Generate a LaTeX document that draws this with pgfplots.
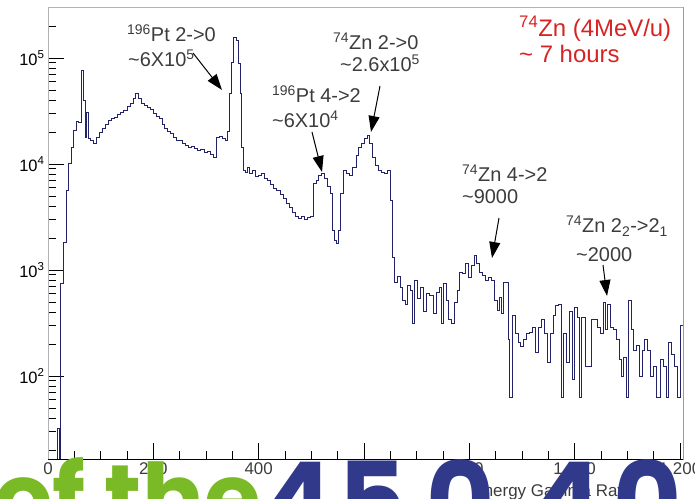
\documentclass[border=0pt]{standalone}
\usepackage{fontspec}
\setmainfont{Liberation Sans}
\newfontfamily\slidefont{Poppins}
\usepackage{pgfplots}
\pgfplotsset{compat=1.18}
\usetikzlibrary{arrows.meta}

\definecolor{histblue}{RGB}{35,35,105}
\definecolor{annotgray}{RGB}{60,60,60}
\definecolor{znred}{RGB}{215,35,35}
\definecolor{slidegreen}{RGB}{122,186,38}
\definecolor{slideblue}{RGB}{49,57,138}

% gamma spectrum, left bin edge / counts
\pgfplotstableread{
E counts
0 1
17.1 32
21.8 1
23.7 754
28.5 1838
34.2 5684
38.9 10219
43.7 14470
48.4 20930
53.2 25440
57.9 24890
62.7 77030
66.5 40160
70.3 17980
74.0 30950
76.9 17590
81.6 16840
87.3 15780
93.0 17980
98.7 20040
104.4 21860
110.1 23850
115.8 26010
121.5 27160
127.2 27760
132.9 29630
138.6 30950
144.3 32310
150.0 35250
155.7 37630
161.4 41940
166.1 46750
170.9 41940
176.6 37630
182.3 36030
188.0 34490
193.7 33030
199.4 30280
205.1 28370
210.8 27160
216.5 23850
222.1 21860
227.8 20480
233.5 19610
239.2 17980
244.9 16840
250.6 16500
256.3 15780
262.0 15110
267.7 14470
273.4 14790
279.1 14160
284.8 13560
290.5 13700
296.2 12980
301.9 13270
307.6 12430
313.3 11640
319.0 17980
324.7 18380
330.4 17590
336.1 16840
339.9 20480
343.7 46750
347.5 91680
351.3 157800
357.0 147900
360.8 89720
364.6 46750
368.3 14470
371.2 8778
375.9 8404
379.7 9370
383.5 8225
389.2 8778
394.9 7703
400.6 7872
406.3 8225
412.0 7377
417.7 7064
423.4 6476
429.1 5937
434.8 5684
440.5 5212
446.2 4777
451.9 4286
457.6 3929
463.3 3525
469.0 3231
474.7 3094
480.4 3231
486.1 3028
491.8 3162
497.5 3231
503.2 6619
508.9 7064
514.5 7872
520.2 8225
525.9 7377
531.6 6202
537.3 5326
541.1 2384
544.9 1919
548.7 1798
552.5 2384
556.3 5326
562.0 8778
567.7 8225
573.4 7872
579.1 9370
584.8 12160
589.5 14470
594.3 15780
600.0 17590
605.7 18770
610.4 15780
615.2 11640
620.9 9786
626.6 8778
632.3 8404
638.0 8225
643.7 8778
649.4 4575
654.1 1327
658.8 770
664.5 878
670.2 691
674.0 521
679.7 468
683.5 722
689.2 648
693.0 316
696.8 805
702.5 544
708.2 691
713.9 402
719.6 607
725.3 581
731.0 393
736.7 620
742.4 677
746.2 316
750.0 754
755.7 521
759.5 338
765.2 316
770.9 499
776.6 648
782.2 957
787.9 930
793.6 1164
799.3 859
805.0 1115
810.7 1385
814.5 1164
820.2 957
825.9 897
831.6 805
837.3 859
843.0 805
848.7 521
853.5 419
858.2 556
862.0 393
865.8 770
873.4 219
876.3 63
881.0 376
886.7 254
892.4 205
896.2 188
901.9 219
907.6 254
913.3 260
919.0 290
924.7 165
930.4 290
936.1 338
941.8 254
947.5 133
953.2 254
958.9 376
964.5 458
970.2 468
975.9 63
979.7 254
985.4 133
991.1 402
995.9 92
1000.6 448
1006.3 360
1010.1 63
1013.9 360
1019.6 122
1025.3 122
1031.0 338
1036.7 338
1042.4 290
1048.1 254
1053.8 499
1058.5 272
1062.3 468
1067.1 290
1072.8 272
1078.5 219
1084.2 142
1088.9 98
1092.7 151
1097.5 63
1102.2 521
1107.0 272
1111.8 176
1116.5 196
1122.2 98
1127.9 176
1133.5 219
1139.2 176
1144.9 98
1150.6 122
1156.3 63
1162.0 142
1167.7 122
1173.4 63
1178.2 205
1182.9 158
1188.6 122
1194.3 63
1200.0 303
1205.7 303
}\spectrum

\begin{document}
\begin{tikzpicture}
    \begin{axis}[
            scale only axis,
            width=635bp,
            height=452bp,
            xmin=0, xmax=1205.7,
            ymode=log,
            ymin=16.5, ymax=3.03e5,
            axis line style={draw=gray!60, line width=0.8bp},
            tick align=inside,
            tick pos=left,
            major tick length=16bp,
            minor tick length=8bp,
            tick style={black, line width=0.8bp},
            xtick={0,200,400,600,800,1000,1200},
            minor x tick num=3,
            ytick={100,1000,10000,100000},
            yticklabels={10\textsuperscript{2},10\textsuperscript{3},10\textsuperscript{4},10\textsuperscript{5}},
            minor ytick={20,30,40,50,60,70,80,90,200,300,400,500,600,700,800,900,2000,3000,4000,5000,6000,7000,8000,9000,20000,30000,40000,50000,60000,70000,80000,90000,200000},
            /pgf/number format/assume math mode=true,
            xticklabel style={font=\fontsize{17}{17}\selectfont, text=annotgray},
            yticklabel style={font=\fontsize{16.5}{16.5}\selectfont, text=black},
            xlabel={Energy Gamma Rays},
            xlabel style={at={(axis description cs:0.929,0)}, anchor=east,
                    yshift=-33bp, font=\fontsize{17}{17}\selectfont, text=annotgray},
        ]
        \addplot [const plot mark left, histblue, line width=1bp] table [x=E, y=counts] {\spectrum};
        \draw [black, line width=0.8bp] (rel axis cs:0,0) -- (rel axis cs:1,0) -- (rel axis cs:1,1);
    \end{axis}

    % annotations, in picture pixels (origin top left)
    \begin{scope}[shift={(-48bp,459bp)}, x=1bp, y=-1bp,
            lab/.style={anchor=base west, inner sep=0pt, text=annotgray, font=\fontsize{20}{20}\selectfont},
            red/.style={anchor=base west, inner sep=0pt, text=znred, font=\fontsize{24}{24}\selectfont},
            arr/.style={black, line width=1bp, -{Triangle[length=16bp, width=11bp]}}]
        \node [lab] at (127,42) {\textsuperscript{196}Pt 2->0};
        \node [lab] at (128,67) {\textasciitilde6X10\textsuperscript{5}};
        \draw [arr] (193,53) -- (222,90);

        \node [lab] at (272,103) {\textsuperscript{196}Pt 4->2};
        \node [lab] at (272,128) {\textasciitilde6X10\textsuperscript{4}};
        \draw [arr] (312,132) -- (322,172);

        \node [lab] at (333,50) {\textsuperscript{74}Zn 2->0};
        \node [lab] at (340,72) {\textasciitilde2.6x10\textsuperscript{5}};
        \draw [arr] (380,86) -- (371,132);

        \node [lab] at (462,182) {\textsuperscript{74}Zn 4->2};
        \node [lab] at (462,204) {\textasciitilde9000};
        \draw [arr] (499,218) -- (492,258);

        \node [lab] at (566,233) {\textsuperscript{74}Zn 2\textsubscript{2}->2\textsubscript{1}};
        \node [lab] at (576,262) {\textasciitilde2000};
        \draw [arr] (603,265) -- (607,296);

        \node [red] at (519,37) {\textsuperscript{74}Zn (4MeV/u)};
        \node [red] at (519,63) {\textasciitilde{} 7 hours};

        % slide text lying over the bottom of the figure
        \node [anchor=base west, inner sep=0pt, text=slidegreen,
            font=\slidefont\bfseries\fontsize{92}{92}\selectfont] at (-6,530) {of the};
        \foreach \c/\xc in {4/298, 5/372, 0/461, 4/567, 0/648}
        \node [anchor=base, inner sep=0pt, text=slideblue,
            font=\slidefont\bfseries\fontsize{105}{105}\selectfont] at (\xc,538) {\c};

        \pgfresetboundingbox
        \path [use as bounding box] (0,0) rectangle (695,499);
    \end{scope}
\end{tikzpicture}
\end{document}
